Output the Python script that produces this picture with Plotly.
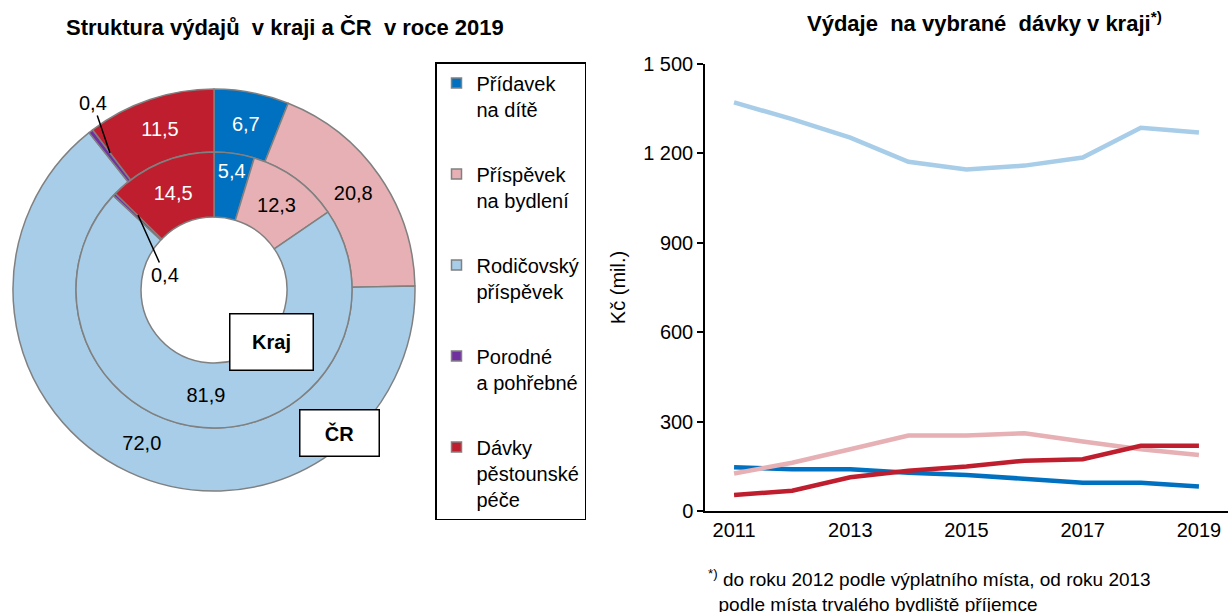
import plotly.graph_objects as go

# ---- data ----
categories = ["Přídavek<br>na dítě", "Příspěvek<br>na bydlení", "Rodičovský<br>příspěvek",
              "Porodné<br>a pohřebné", "Dávky<br>pěstounské<br>péče"]
colors = ["#0070C0", "#E6B0B4", "#A7CDE8", "#7030A0", "#BE1E2D"]
cr_values = [6.7, 20.8, 72.0, 0.4, 11.5]
kraj_values = [5.4, 12.3, 81.9, 0.4, 14.5]

years = [2011, 2012, 2013, 2014, 2015, 2016, 2017, 2018, 2019]
pridavek = [147, 140, 140, 128, 121, 107, 95, 95, 82]
bydleni = [126, 162, 207, 253, 253, 261, 233, 207, 188]
rodicovsky = [1371, 1315, 1253, 1172, 1146, 1159, 1186, 1286, 1270]
pestounske = [54, 68, 113, 135, 149, 169, 174, 219, 219]
line_series = [(pridavek, 0), (bydleni, 1), (rodicovsky, 2), (pestounske, 4)]

year_ticks = [2011, 2013, 2015, 2017, 2019]
y_ticks = [0, 300, 600, 900, 1200, 1500]

W, H = 1228, 612
FONT = "Liberation Sans, Arial, sans-serif"
FS = 20
TFS = 22

fig = go.Figure()

def px_x(v):
    return v / W

def px_y(v):
    return 1 - v / H

# donut geometry (pixels)
cx, cy = 214, 290
r_out, r_mid, r_in = 201, 138, 73

text_colors = ["white", "black", "black", "black", "white"]
tmpl = ["%{value:.1f}", "%{value:.1f}", "%{value:.1f}", "", "%{value:.1f}"]

fig.add_trace(go.Pie(
    labels=categories, values=cr_values, sort=False, direction="clockwise", rotation=0,
    hole=r_mid / r_out,
    domain=dict(x=[px_x(cx - r_out), px_x(cx + r_out)], y=[px_y(cy + r_out), px_y(cy - r_out)]),
    marker=dict(colors=colors, line=dict(color="#808080", width=1.5)),
    texttemplate=tmpl, textposition="inside", insidetextorientation="horizontal",
    textfont=dict(color=text_colors, size=FS, family=FONT),
    showlegend=False, hoverinfo="label+value",
))
fig.add_trace(go.Pie(
    labels=categories, values=kraj_values, sort=False, direction="clockwise", rotation=0,
    hole=r_in / r_mid,
    domain=dict(x=[px_x(cx - r_mid), px_x(cx + r_mid)], y=[px_y(cy + r_mid), px_y(cy - r_mid)]),
    marker=dict(colors=colors, line=dict(color="#808080", width=1.5)),
    texttemplate=tmpl, textposition="inside", insidetextorientation="horizontal",
    textfont=dict(color=text_colors, size=FS, family=FONT),
    showlegend=False, hoverinfo="label+value",
))

# line chart
for vals, ci in line_series:
    fig.add_trace(go.Scatter(
        x=years, y=vals, mode="lines", line=dict(color=colors[ci], width=4.5),
        showlegend=False, name=categories[ci].replace("<br>", " "),
        xaxis="x", yaxis="y",
    ))

# legend entries (square markers)
for i, cat in enumerate(categories):
    fig.add_trace(go.Scatter(
        x=[None], y=[None], mode="markers", name=cat, legendgroup=str(i),
        marker=dict(symbol="square", size=10, color=colors[i], line=dict(color="#808080", width=1.5)),
        xaxis="x", yaxis="y",
    ))

x0 = 705
fig.update_layout(
    width=W, height=H, margin=dict(l=0, r=0, t=0, b=0, autoexpand=False),
    paper_bgcolor="white", plot_bgcolor="white",
    separators=", ",
    font=dict(family=FONT, size=FS, color="black"),
    uniformtext=dict(minsize=FS, mode="show"),
    xaxis=dict(domain=[px_x(x0), 1], range=[2010.5, 2019.5], tickvals=year_ticks,
               ticks="", showgrid=False, zeroline=False, showline=True,
               linecolor="black", linewidth=1.5, tickfont=dict(size=FS), fixedrange=True),
    xaxis2=dict(domain=[px_x(x0), 1], range=[2010.5, 2019.5], overlaying="x", anchor="y",
                tickvals=[y - 0.5 for y in year_ticks], ticks="outside", ticklen=6,
                tickwidth=1.5, tickcolor="black", showticklabels=False, showgrid=False,
                zeroline=False, showline=False, side="bottom"),
    yaxis=dict(domain=[px_y(511), px_y(64)], range=[0, 1500], tickvals=y_ticks,
               tickformat=",d", ticks="outside", ticklen=6, tickwidth=1.5, tickcolor="black",
               showgrid=False, zeroline=False, showline=True, linecolor="black", linewidth=1.5,
               title=dict(text="Kč (mil.)", standoff=12, font=dict(size=FS)),
               tickfont=dict(size=FS)),
    yaxis2=dict(domain=[px_y(511), px_y(64)], range=[0, 1500], overlaying="y", anchor="x",
                tickvals=y_ticks[1:-1], showticklabels=False, showgrid=True,
                gridcolor="#C8C8C8", gridwidth=1.5, zeroline=False, showline=False),
    legend=dict(x=px_x(435), y=px_y(62), xanchor="left", yanchor="top",
                bordercolor="black", borderwidth=1.5, bgcolor="white",
                traceorder="grouped", tracegroupgap=36, valign="top",
                font=dict(size=FS), itemclick=False, itemdoubleclick=False),
    annotations=[
        dict(text="<b>Struktura výdajů  v kraji a ČR  v roce 2019</b>", x=px_x(285), y=px_y(28),
             xref="paper", yref="paper", xanchor="center", yanchor="middle",
             showarrow=False, font=dict(size=TFS)),
        dict(text="<b>Výdaje  na vybrané  dávky v kraji<sup>*)</sup></b>", x=px_x(984), y=px_y(22),
             xref="paper", yref="paper", xanchor="center", yanchor="middle",
             showarrow=False, font=dict(size=TFS)),
        dict(text="<sup>*)</sup> do roku 2012 podle výplatního místa, od roku 2013<br>  podle místa trvalého bydliště příjemce",
             x=px_x(706), y=px_y(564), xref="paper", yref="paper", xanchor="left", yanchor="top",
             align="left", showarrow=False, font=dict(size=19)),
        dict(text="0,4", x=px_x(110), y=px_y(153), xref="paper", yref="paper",
             ax=-17, ay=-50, showarrow=True, arrowhead=0, arrowwidth=1.5, arrowcolor="black",
             font=dict(size=FS)),
        dict(text="0,4", x=px_x(138), y=px_y(215), xref="paper", yref="paper",
             ax=27, ay=60, showarrow=True, arrowhead=0, arrowwidth=1.5, arrowcolor="black",
             font=dict(size=FS)),
        dict(text="<b>Kraj</b>", x=px_x(271), y=px_y(342), xref="paper", yref="paper",
             xanchor="center", yanchor="middle",
             showarrow=False, width=80, height=53, bgcolor="white", bordercolor="black",
             borderwidth=1.5, font=dict(size=FS)),
        dict(text="<b>ČR</b>", x=px_x(339), y=px_y(433), xref="paper", yref="paper",
             xanchor="center", yanchor="middle",
             showarrow=False, width=76, height=43, bgcolor="white", bordercolor="black",
             borderwidth=1.5, font=dict(size=FS)),
    ],
)

fig.write_html("out.html", config={"displayModeBar": False},
               post_script="document.body.style.margin='0px';")
